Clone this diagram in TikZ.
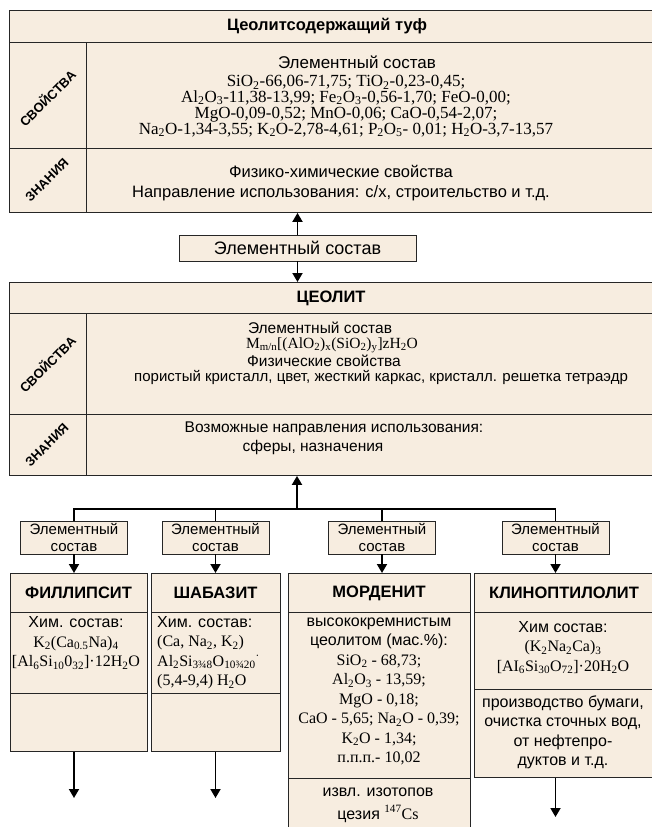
\documentclass[tikz,border=0pt]{standalone}
\usepackage{fontspec}
\setmainfont{Liberation Serif}
\setsansfont{Liberation Sans}
\usetikzlibrary{arrows.meta}
\definecolor{beige}{RGB}{247,237,224}
\newcommand{\lo}[1]{\textsubscript{#1}}
\newcommand{\hi}[1]{\textsuperscript{#1}}
\tikzset{
  blk/.style={draw=black!85,fill=beige,line width=0.9pt,inner sep=0pt,anchor=north west},
  div/.style={draw=black!85,line width=0.9pt},
  txt/.style={font=\sffamily\fontsize{16}{19.5}\selectfont,align=center,inner sep=0pt},
  frm/.style={font=\rmfamily\fontsize{16}{19.5}\selectfont,align=center,inner sep=0pt},
  ttl/.style={font=\sffamily\bfseries\fontsize{16.5}{19}\selectfont,inner sep=0pt},
  lbl/.style={font=\sffamily\bfseries\fontsize{13}{14}\selectfont,rotate=45,inner sep=0pt},
  ebox/.style={draw=black!85,fill=beige,line width=0.9pt,minimum width=107pt,minimum height=33pt,
    inner sep=0pt,align=center,font=\sffamily\fontsize{15}{17}\selectfont},
  arr/.style={line width=1.8pt,-{Triangle[length=9pt,width=10pt]}},
  bus/.style={line width=1.8pt}
}
\begin{document}
\begin{tikzpicture}[x=1pt,y=-1pt]
\useasboundingbox (0,0) rectangle (652,827);
\clip (0,0) rectangle (652,827);
\fill[white] (0,0) rectangle (652,827);
% tuf
\node[blk,minimum width=652pt,minimum height=202pt] (tuf) at (9,10) {};
\draw[div] (9,42) -- (661,42) (9,148) -- (661,148) (86,42) -- (86,212);
\node[ttl] (tuft) at (327,26) {Цеолитсодержащий туф};
\node[lbl] (tufs) at (47,98) {СВОЙСТВА};
\node[lbl] (tufz) at (47,180) {ЗНАНИЯ};
\node[txt,font=\sffamily\fontsize{17}{19}\selectfont] (tufe) at (357,62) {Элементный состав};
\node[frm,font=\rmfamily\fontsize{17}{15.8}\selectfont] (tuff) at (346,106) {SiO\lo2-66,06-71,75; TiO\lo2-0,23-0,45;\\
  Al\lo2O\lo3-11,38-13,99; Fe\lo2O\lo3-0,56-1,70; FeO-0,00;\\
  MgO-0,09-0,52; MnO-0,06; CaO-0,54-2,07;\\
  Na\lo2O-1,34-3,55; K\lo2O-2,78-4,61; P\lo2O\lo5- 0,01; H\lo2O-3,7-13,57};
\node[txt,font=\sffamily\fontsize{16.5}{19.5}\selectfont] (tufk) at (341,183) {Физико-химические свойства\\Направление использования: с/х, строительство и т.д.};
% zeolit
\node[blk,minimum width=652pt,minimum height=193pt] (zeo) at (9,282) {};
\draw[div] (9,313) -- (661,313) (9,414) -- (661,414) (86,313) -- (86,475);
\node[ttl] (zeot) at (331,298) {ЦЕОЛИТ};
\node[lbl] (zeos) at (47,364) {СВОЙСТВА};
\node[lbl] (zeoz) at (47,445) {ЗНАНИЯ};
\node[txt,font=\sffamily\fontsize{15.5}{16}\selectfont] (zeoe) at (320,328) {Элементный состав};
\node[frm,font=\rmfamily\fontsize{15.5}{16}\selectfont] (zeof) at (332,345) {M\lo{m/n}[(AlO\lo2)\lo x(SiO\lo2)\lo y]zH\lo2O};
\node[txt,font=\sffamily\fontsize{15.5}{16}\selectfont] (zeop) at (324,361) {Физические свойства};
\node[txt,font=\sffamily\fontsize{15}{16}\selectfont] (zeoc) at (381,377) {пористый кристалл, цвет, жесткий каркас, кристалл. решетка тетраэдр};
\node[txt,font=\sffamily\fontsize{15.5}{17}\selectfont] (zeon) at (334,429) {Возможные направления использования:};
\node[txt,font=\sffamily\fontsize{15.5}{17}\selectfont] (zeor) at (313,447) {сферы, назначения};
% links
\node[ebox,minimum width=237pt,minimum height=26pt,font=\sffamily\fontsize{18}{20}\selectfont] (sost) at (297.5,248) {Элементный состав};
\draw[arr] (sost.north) -- (sost.north |- tuf.south);
\draw[arr] (sost.south) -- (sost.south |- zeo.north);
\coordinate (hub) at (297,509);
\draw[arr] (hub) -- (hub |- zeo.south);
\foreach \n/\x in {1/74,2/215.5,3/382,4/555.5}
  \node[ebox] (e\n) at (\x,537.5) {Элементный\\состав};
\draw[bus] (e1.north) |- (hub) -| (e4.north);
\foreach \n in {2,3} \draw[bus] (e\n.north) -- (e\n.north |- hub);
% minerals
\node[blk,minimum width=137pt,minimum height=178pt] (fil) at (10,573) {};
\node[blk,minimum width=129pt,minimum height=178pt] (sha) at (151,573) {};
\node[blk,minimum width=182pt,minimum height=260pt] (mor) at (288,573) {};
\node[blk,minimum width=186pt,minimum height=204pt] (kli) at (474,573) {};
\draw[div] (10,612) -- (147,612) (10,693) -- (147,693) (151,612) -- (280,612) (151,693) -- (280,693)
  (288,612) -- (470,612) (288,778) -- (470,778) (474,612) -- (660,612) (474,689) -- (660,689);
\foreach \n/\b in {1/fil,2/sha,3/mor,4/kli} \draw[arr] (e\n.south) -- (e\n.south |- \b.north);
\node[ttl] (filt) at (78.5,593) {ФИЛЛИПСИТ};
\node[ttl] (shat) at (215.5,593) {ШАБАЗИТ};
\node[ttl] (mort) at (379,593) {МОРДЕНИТ};
\node[ttl] (klit) at (564,593) {КЛИНОПТИЛОЛИТ};
\node[txt] (filc) at (76,643) {Хим. состав:\\ \rmfamily K\lo2(Ca\lo{0.5}Na)\lo4\\ \rmfamily [Al\lo6Si\lo{10}0\lo{32}]·12H\lo2O};
\node[txt,align=left,anchor=west] (shac) at (157,652.5) {Хим. состав:\\ \rmfamily (Ca, Na\lo2, K\lo2)\\
  \rmfamily Al\lo2Si\lo{3¾8}O\lo{10¾20}\hi{·}\\ \rmfamily (5,4-9,4) H\lo2O};
\node[txt] (morc) at (379,691.5) {высококремнистым\\цеолитом (мас.\%):\\ \rmfamily SiO\lo2 - 68,73;\\
  \rmfamily Al\lo2O\lo3 - 13,59;\\ \rmfamily MgO - 0,18;\\ \rmfamily CaO - 5,65; Na\lo2O - 0,39;\\
  \rmfamily K\lo2O - 1,34;\\ \rmfamily п.п.п.- 10,02};
\node[txt,font=\sffamily\fontsize{16}{23}\selectfont] (moru) at (378,805) {извл. изотопов\\цезия {\rmfamily\hi{147}Cs}};
\node[txt] (klic) at (563,647.5) {Хим состав:\\ \rmfamily (K\lo2Na\lo2Ca)\lo3\\ \rmfamily [AI\lo6Si\lo{30}O\lo{72}]·20H\lo2O};
\node[txt] (kliu) at (563,732.5) {производство бумаги,\\очистка сточных вод,\\от нефтепро-\\дуктов и т.д.};
\coordinate (outA) at (74,798);
\coordinate (outB) at (215.5,798);
\coordinate (outD) at (555.5,817);
\draw[arr] (outA |- fil.south) -- (outA);
\draw[arr] (outB |- sha.south) -- (outB);
\draw[arr] (outD |- kli.south) -- (outD);
\end{tikzpicture}
\end{document}
